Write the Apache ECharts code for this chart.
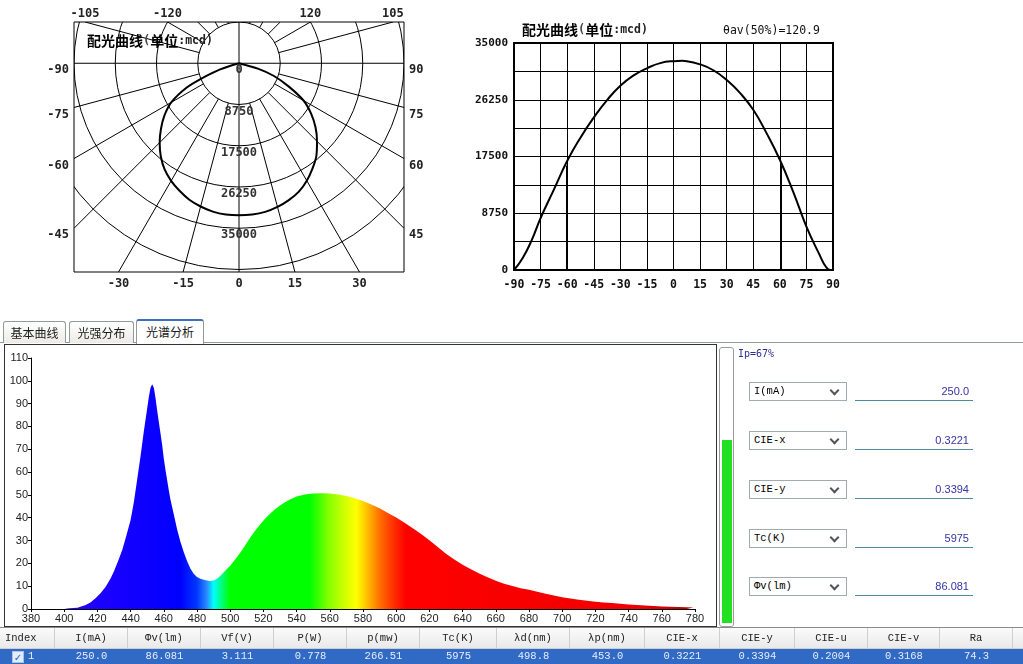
<!DOCTYPE html>
<html>
<head>
<meta charset="utf-8">
<title>配光曲线 / 光谱分析</title>
<script src="https://cdn.jsdelivr.net/npm/echarts@6/dist/echarts.min.js"></script>
<style>
html,body{margin:0;padding:0;background:#fff;width:1023px;height:664px;overflow:hidden;}
#chart{position:absolute;left:0;top:0;width:1023px;height:664px;z-index:1;}
#ui{position:absolute;left:0;top:0;width:1023px;height:664px;z-index:2;pointer-events:none;}
.abs{position:absolute;box-sizing:border-box;}
.tab{position:absolute;box-sizing:border-box;top:321px;height:22px;border:1px solid #919b9c;border-bottom:none;border-radius:3px 3px 0 0;background:linear-gradient(#ffffff,#ecebe6);font:12px "Noto Sans CJK SC",sans-serif;color:#1a1a1a;text-align:center;line-height:21px;}
.tab.active{top:319px;height:25px;background:#fff;border-top:2px solid #3d6fc0;line-height:22px;z-index:3;}
.combo{position:absolute;box-sizing:border-box;left:749px;width:98px;height:19px;border:1px solid #a3a9b0;background:#fff;font:10.5px "Liberation Mono","DejaVu Sans Mono",monospace;color:#000;line-height:17px;padding-left:4px;}
.chev{position:absolute;right:8px;top:4px;width:5px;height:5px;border-right:2px solid #555;border-bottom:2px solid #555;transform:rotate(45deg);}
.field{position:absolute;box-sizing:border-box;left:855px;width:118px;height:19px;border-bottom:1px solid #4b8d9b;font:11px "Liberation Sans","DejaVu Sans",sans-serif;color:#3434a4;text-align:right;padding-right:4px;line-height:18px;}
.th{position:absolute;box-sizing:border-box;top:628px;height:21px;border-right:1px solid #cfcfcf;font:10.5px "Liberation Mono","DejaVu Sans Mono",monospace;color:#222;text-align:center;line-height:21px;}
.td{position:absolute;box-sizing:border-box;top:649px;height:15px;font:10.5px "Liberation Mono","DejaVu Sans Mono",monospace;color:#e6edff;text-align:center;line-height:15px;}
</style>
</head>
<body>
<div id="chart"></div>
<div id="ui"></div>
<script>
// ---------------- data ----------------
// polar light distribution (配光曲线) – rings and angle labels
const polarRings = [8750, 17500, 26250, 35000, 43750];
const polarRingLabels = [0, 8750, 17500, 26250, 35000];
const polarSpokeAngles = [-165,-150,-135,-120,-105,-90,-75,-60,-45,-30,-15,0,15,30,45,60,75,90,105,120,135,150,165,180];
const polarAngleLabels = [-120,-105,-90,-75,-60,-45,-30,-15,0,15,30,45,60,75,90,105,120];
// polar curve (angle in degrees, intensity in mcd)
const polarCurveAngles = [-78,-72,-68,-65,-60,-55,-50,-45,-40,-35,-30,-25,-20,-15,-10,-5,0,5,10,15,20,25,30,35,40,45,50,55,60,65,70,74,78];
const polarCurveValues = [0,4200,8400,12300,16600,19300,21600,23800,25800,27500,28800,29850,30800,31450,31950,32200,32250,32200,32000,31550,30900,30050,28750,27200,25550,23400,21200,18700,15800,11600,7900,4300,0];

// cartesian light distribution curve
const curveAngles = [-90,-85,-80,-75,-67.5,-60,-52.5,-45,-37.5,-30,-22.5,-15,-7.5,0,5,7.5,15,22.5,30,37.5,45,52.5,60,67.5,75,82.5,86,88.5,90];
const curveIntensity = [0,1900,4600,8000,12400,16800,20400,23500,26200,28400,30000,31100,31900,32200,32250,32200,31700,30800,29300,27300,24700,21100,17000,12100,6700,2300,500,0,0];
const halfAngles = [-60.5, 60.4];   // θav(50%)=120.9
const curveYTickLabels = [0, 8750, 17500, 26250, 35000];

// spectrum (光谱分析)
const specNm = [380,390,400,403,408,413,416,419,422,425,428,430,433,435,437,440,442,444,446,448,450,451,452,453,454,455,456,457,458,459,460,461,462,463,464,466,468,470,472,474,476,478,480,482,484,486,488,490,492,494,496,498,500,502,504,506,508,510,512,515,518,521,524,527,530,533,536,540,545,550,555,560,565,570,575,580,585,590,595,600,605,610,615,620,625,630,635,640,645,650,655,660,665,670,675,680,685,690,695,700,705,710,715,720,725,730,735,740,745,750,755,760,765,770,775,779,780];
const specVal = [0,0,0,0.3,0.6,1.8,3.0,4.8,7,9.8,13.5,16.5,22,26,31,39,47,57,67,78,88,93,97,98.5,97,92.5,87,82,77,72,66,61,56.5,52,48,41.5,35,29.5,25,21,17.8,15.4,14,13.3,12.8,12.5,12.3,12.5,13.3,14.5,16,17.5,19,20.8,22.7,24.7,26.7,29,31.2,34.3,37,39.5,41.7,43.7,45.4,46.8,48,49.3,50.2,50.6,50.7,50.6,50.2,49.5,48.5,47.3,45.8,44.1,42.1,40.1,37.8,35.4,32.9,30.1,27.2,24.2,21.7,19.4,17.4,15.6,13.9,12.4,11.1,10.1,9.1,8.4,7.6,6.7,5.9,5.2,4.6,4.1,3.6,3.2,2.9,2.6,2.3,2.0,1.8,1.5,1.3,1.1,1.0,0.9,0.8,0.7,0];
const specStopNm =    [380,      430,      470,      480,      486,      490,      494,      500,      548,      560,      570,      576,      582,      590,      600,      606,      745,      780];
const specStopColor = ['#3000ff','#1800ff','#0000ff','#0038ff','#2a8cff','#00ffff','#00ff90','#00ff00','#00ff00','#8cff00','#d8ff00','#ffff00','#ffc400','#ff7000','#ff2400','#ff0000','#f00000','#b00000'];

// right panel and table
const ipPercent = 67;
const paramNames = ['I(mA)','CIE-x','CIE-y','Tc(K)','Φv(lm)'];
const paramValues = ['250.0','0.3221','0.3394','5975','86.081'];
const tabNames = ['基本曲线','光强分布','光谱分析'];
const tableHeaders = ['Index','I(mA)','Φv(lm)','Vf(V)','P(W)','p(mw)','Tc(K)','λd(nm)','λp(nm)','CIE-x','CIE-y','CIE-u','CIE-v','Ra'];
const tableRow = ['1','250.0','86.081','3.111','0.778','266.51','5975','498.8','453.0','0.3221','0.3394','0.2004','0.3168','74.3'];

// ---------------- layout constants ----------------
const POLAR_X_MIN = -35000, POLAR_X_MAX = 35000, POLAR_Y_MIN = -44270, POLAR_Y_MAX = 8750;
const SPOKE_INNER = polarRings[0];
const DEG = Math.PI / 180;
const MONO = '"DejaVu Sans Mono", monospace';

function toXY(angle, value) {
  return [value * Math.sin(angle * DEG), -value * Math.cos(angle * DEG)];
}
function frameHit(angle) {
  const dx = Math.sin(angle * DEG), dy = -Math.cos(angle * DEG);
  let t = Infinity, side = '';
  if (dx > 1e-9 && POLAR_X_MAX / dx < t) { t = POLAR_X_MAX / dx; side = 'right'; }
  if (dx < -1e-9 && POLAR_X_MIN / dx < t) { t = POLAR_X_MIN / dx; side = 'left'; }
  if (dy > 1e-9 && POLAR_Y_MAX / dy < t) { t = POLAR_Y_MAX / dy; side = 'top'; }
  if (dy < -1e-9 && POLAR_Y_MIN / dy < t) { t = POLAR_Y_MIN / dy; side = 'bottom'; }
  return { x: dx * t, y: dy * t, side: side };
}
function clipRect(params) {
  const c = params.coordSys;
  return { type: 'rect', shape: { x: c.x, y: c.y, width: c.width, height: c.height } };
}

const specGradient = new echarts.graphic.LinearGradient(0, 0, 1, 0,
  specStopNm.map((nm, i) => ({
    offset: (nm - specNm[0]) / (specNm[specNm.length - 1] - specNm[0]),
    color: specStopColor[i]
  })));

const curvePeak = Math.max.apply(null, curveIntensity);

const titleRich = {
  h: { fontFamily: '"Noto Sans CJK SC"', fontWeight: 'bold', fontSize: 14, color: '#000', lineHeight: 16, verticalAlign: 'middle' },
  p: { fontFamily: MONO, fontSize: 12, color: '#444', lineHeight: 16, verticalAlign: 'middle' },
  m: { fontFamily: MONO, fontSize: 11.5, color: '#222', lineHeight: 16, verticalAlign: 'middle' }
};

const chart = echarts.init(document.getElementById('chart'), null, { renderer: 'canvas' });
chart.setOption({
  animation: false,
  backgroundColor: '#fff',
  title: [
    { left: 87, top: 33, padding: 0, text: '{h|配光曲线}{p|(}{h|单位}{m|:mcd)}', textStyle: { rich: titleRich } },
    { left: 522, top: 22, padding: 0, text: '{h|配光曲线}{p|(}{h|单位}{m|:mcd)}', textStyle: { rich: titleRich } },
    { left: 723, top: 25, padding: 0, text: 'θav(50%)=120.9', textStyle: { fontFamily: MONO, fontSize: 11.5, fontWeight: 'normal', color: '#111' } }
  ],
  grid: [
    { left: 74, top: 22, width: 330, height: 250, show: true, borderColor: '#000', borderWidth: 1, backgroundColor: 'transparent' },
    { left: 514, top: 43, width: 319, height: 227, show: true, borderColor: '#000', borderWidth: 2, backgroundColor: 'transparent' },
    { left: 31, top: 358, width: 664, height: 251 },
    { left: 722, top: 350, width: 10, height: 273 }
  ],
  xAxis: [
    { gridIndex: 0, type: 'value', min: POLAR_X_MIN, max: POLAR_X_MAX, show: false },
    { gridIndex: 1, type: 'value', min: -90, max: 90, interval: 15,
      axisLine: { show: true, onZero: false, lineStyle: { color: '#000', width: 2 } },
      axisTick: { show: false },
      axisLabel: { fontFamily: MONO, fontWeight: 'bold', fontSize: 11.5, color: '#111', margin: 9 },
      splitLine: { show: true, lineStyle: { color: '#000', width: 1 } } },
    { gridIndex: 2, type: 'value', min: 380, max: 780, interval: 20,
      axisLine: { show: true, onZero: false, lineStyle: { color: '#000', width: 1 } },
      axisTick: { show: true, length: 3, lineStyle: { color: '#000' } },
      axisLabel: { fontFamily: '"Liberation Sans", Arial, sans-serif', fontSize: 11, color: '#222', margin: 4 },
      splitLine: { show: false } },
    { gridIndex: 3, type: 'category', data: ['Ip'], show: false }
  ],
  yAxis: [
    { gridIndex: 0, type: 'value', min: POLAR_Y_MIN, max: POLAR_Y_MAX, show: false },
    { gridIndex: 1, type: 'value', min: 0, max: 35000, interval: 4375,
      axisLine: { show: true, onZero: false, lineStyle: { color: '#000', width: 2 } },
      axisTick: { show: false },
      axisLabel: { fontFamily: MONO, fontWeight: 'bold', fontSize: 11, color: '#111', margin: 6,
        formatter: v => (curveYTickLabels.indexOf(v) >= 0 ? String(v) : '') },
      splitLine: { show: true, lineStyle: { color: '#000', width: 1 } } },
    { gridIndex: 2, type: 'value', min: 0, max: 110, interval: 10,
      axisLine: { show: true, onZero: false, lineStyle: { color: '#000', width: 1 } },
      axisTick: { show: true, length: 3, lineStyle: { color: '#000' } },
      axisLabel: { fontFamily: '"Liberation Sans", Arial, sans-serif', fontSize: 11, color: '#222', margin: 3 },
      splitLine: { show: false } },
    { gridIndex: 3, type: 'value', min: 0, max: 100, show: false }
  ],
  series: [
    // polar rings
    { type: 'custom', xAxisIndex: 0, yAxisIndex: 0, silent: true, clip: true,
      data: polarRings.map(v => [v]),
      renderItem: (params, api) => {
        const v = api.value(0);
        const c = api.coord([0, 0]);
        const e = api.coord([v, 0]);
        return { type: 'group', clipPath: clipRect(params), children: [
          { type: 'circle', shape: { cx: c[0], cy: c[1], r: e[0] - c[0] },
            style: { fill: 'none', stroke: '#000', lineWidth: 1 } } ] };
      } },
    // polar spokes
    { type: 'custom', xAxisIndex: 0, yAxisIndex: 0, silent: true, clip: true,
      data: polarSpokeAngles.map(a => [a]),
      renderItem: (params, api) => {
        const a = api.value(0);
        const r0 = (a % 90 === 0) ? 0 : SPOKE_INNER;
        const s = api.coord(toXY(a, r0));
        const h = frameHit(a);
        const e = api.coord([h.x, h.y]);
        return { type: 'line', shape: { x1: s[0], y1: s[1], x2: e[0], y2: e[1] },
          style: { stroke: '#000', lineWidth: 1 } };
      } },
    // polar ring labels
    { type: 'custom', xAxisIndex: 0, yAxisIndex: 0, silent: true, clip: false, z: 5,
      data: polarRingLabels.map(v => [v]),
      renderItem: (params, api) => {
        const v = api.value(0);
        const p = api.coord([0, -v]);
        return { type: 'text', x: p[0], y: p[1] + 1,
          style: { text: String(v), align: 'center', verticalAlign: 'top',
            font: 'bold 12px ' + MONO, fill: '#333' } };
      } },
    // polar angle labels
    { type: 'custom', xAxisIndex: 0, yAxisIndex: 0, silent: true, clip: false, z: 5,
      data: polarAngleLabels.map(a => [a]),
      renderItem: (params, api) => {
        const a = api.value(0);
        const h = frameHit(a);
        const p = api.coord([h.x, h.y]);
        let x = p[0], y = p[1], align = 'center', va = 'top';
        if (h.side === 'left') { x -= 5; y += 1; align = 'right'; }
        else if (h.side === 'right') { x += 5; y += 1; align = 'left'; }
        else if (h.side === 'bottom') { y += 6; }
        else { y -= 2; va = 'bottom'; }
        return { type: 'text', x: x, y: y,
          style: { text: String(a), align: align, verticalAlign: va,
            font: 'bold 12px ' + MONO, fill: '#222' } };
      } },
    // polar curve
    { type: 'line', xAxisIndex: 0, yAxisIndex: 0, silent: true,
      data: polarCurveAngles.map((a, i) => toXY(a, polarCurveValues[i])),
      smooth: 0.3, showSymbol: false, symbol: 'none',
      lineStyle: { color: '#000', width: 2 }, z: 4 },
    // cartesian light distribution curve
    { type: 'line', xAxisIndex: 1, yAxisIndex: 1, silent: true,
      data: curveAngles.map((a, i) => [a, curveIntensity[i]]),
      smooth: 0.5, showSymbol: false, symbol: 'none',
      lineStyle: { color: '#000', width: 2 }, z: 4,
      markLine: { silent: true, symbol: 'none', label: { show: false },
        lineStyle: { color: '#000', width: 2, type: 'solid' },
        data: halfAngles.map(a => [{ coord: [a, 0] }, { coord: [a, curvePeak * 0.5] }]) } },
    // spectrum
    { type: 'line', xAxisIndex: 2, yAxisIndex: 2, silent: true,
      data: specNm.map((nm, i) => [nm, specVal[i]]),
      showSymbol: false, symbol: 'none', smooth: false,
      lineStyle: { width: 0 },
      areaStyle: { color: specGradient, opacity: 1 } },
    // Ip level bar
    { type: 'bar', xAxisIndex: 3, yAxisIndex: 3, silent: true,
      data: [ipPercent], barWidth: '100%', itemStyle: { color: '#22e022' } }
  ]
});

// ---------------- UI chrome (tabs, panel, table) ----------------
const ui = document.getElementById('ui');
function add(cls, style, text) {
  const d = document.createElement('div');
  d.className = cls;
  d.setAttribute('style', style);
  if (text !== undefined) d.textContent = text;
  ui.appendChild(d);
  return d;
}
// panel outline
add('abs', 'left:0;top:342px;width:1023px;height:286px;border-top:1px solid #919b9c;border-bottom:1px solid #8a8a8a;');
// spectrum frame
add('abs', 'left:4px;top:344px;width:713px;height:283px;border:1px solid #333;');
// tabs
const tabLefts = [3, 69, 136], tabWidths = [63, 65, 68];
tabNames.forEach((t, i) => {
  add('tab' + (i === 2 ? ' active' : ''), 'left:' + tabLefts[i] + 'px;width:' + tabWidths[i] + 'px;', t);
});
// Ip bar outline + label
add('abs', 'left:719px;top:347px;width:15px;height:280px;border:1px solid #9c9c9c;border-radius:3px;');
add('abs', 'left:738px;top:348px;font:10px ' + MONO + ';color:#2d2d9b;', 'Ip=' + ipPercent + '%');
// parameter rows
const rowTops = [382, 431, 480, 529, 577];
paramNames.forEach((n, i) => {
  const c = add('combo', 'top:' + rowTops[i] + 'px;', n);
  const chev = document.createElement('div'); chev.className = 'chev'; c.appendChild(chev);
  add('field', 'top:' + rowTops[i] + 'px;', paramValues[i]);
});
// table
const colEdges = [0, 55, 128, 201, 274, 347, 420, 497, 570, 645, 720, 795, 868, 940, 1013, 1023];
add('abs', 'left:0;top:628px;width:1023px;height:21px;background:linear-gradient(#fbfbfb,#e9e9e9);border-bottom:1px solid #cfcfcf;');
add('abs', 'left:0;top:649px;width:1023px;height:15px;background:#316ac5;');
tableHeaders.forEach((h, i) => {
  const l = colEdges[i], w = colEdges[i + 1] - colEdges[i];
  add('th', 'left:' + l + 'px;width:' + w + 'px;' + (i === 0 ? 'text-align:left;padding-left:5px;' : ''), h);
});
tableRow.forEach((v, i) => {
  const l = colEdges[i], w = colEdges[i + 1] - colEdges[i];
  add('td', 'left:' + l + 'px;width:' + w + 'px;' + (i === 0 ? 'text-align:left;padding-left:28px;' : ''), v);
});
add('abs', 'left:12px;top:651px;width:12px;height:12px;border:1px solid #a9c3e6;background:#e3edf9;font:bold 10px "DejaVu Sans";color:#2a5db8;text-align:center;line-height:11px;', '✓');
</script>
</body>
</html>
